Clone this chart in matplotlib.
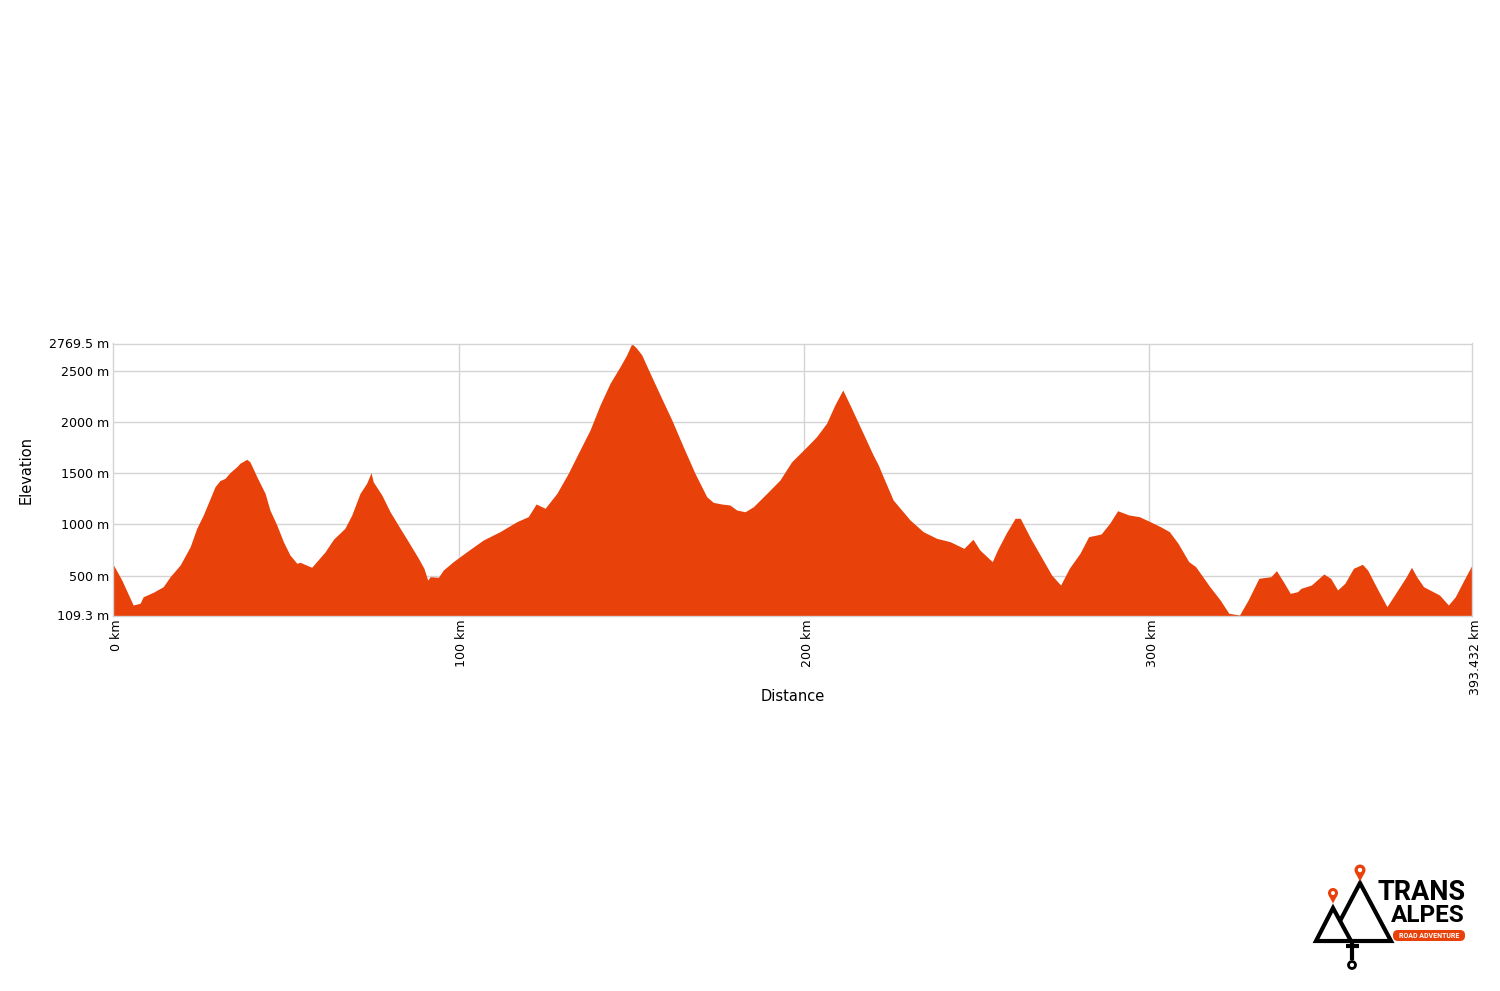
'''
plot.py

Elevation profile of the Trans Alpes road route (distance vs elevation),
drawn as a filled area with the logo in the lower right corner.
'''

import matplotlib
matplotlib.use('Agg')
import matplotlib.pyplot as plt
import matplotlib.transforms as mtransforms
from matplotlib.patches import Polygon, Circle, FancyBboxPatch

# ============================================
# Data
# ============================================
distance_km = [
    0.0, 2.4, 5.7, 7.7, 8.6, 11.5, 14.4, 16.4, 19.3, 22.2, 24.1, 26.0,
    29.4, 30.8, 32.3, 33.7, 35.7, 36.6, 38.6, 39.5, 41.5, 43.9, 45.3, 47.3,
    49.2, 51.1, 53.1, 54.0, 57.4, 58.4, 61.3, 63.7, 67.0, 69.0, 71.4, 73.3,
    74.6, 75.2, 77.7, 80.1, 83.0, 85.4, 88.3, 89.9, 91.0, 91.7, 94.1, 95.5,
    98.4, 102.3, 107.1, 111.9, 116.8, 120.1, 122.4, 125.0, 128.4, 131.7,
    134.6, 138.0, 140.9, 143.8, 146.7, 148.6, 150.1, 151.5, 153.0, 155.4,
    158.3, 161.7, 165.0, 168.4, 171.8, 173.7, 176.1, 178.5, 180.5, 182.9,
    185.3, 189.2, 193.0, 196.4, 200.3, 203.6, 206.5, 208.9, 211.2, 213.3,
    217.1, 220.0, 221.5, 222.9, 225.8, 230.7, 234.5, 238.4, 242.3, 246.3,
    248.9, 250.9, 254.5, 256.0, 258.5, 261.1, 262.6, 265.6, 269.2, 271.7,
    274.3, 276.8, 279.9, 282.4, 286.0, 288.5, 290.8, 294.1, 297.1, 300.2,
    303.2, 305.8, 308.3, 311.4, 313.4, 317.5, 320.5, 323.0, 326.1, 328.6,
    331.7, 335.2, 336.8, 338.8, 340.8, 342.9, 343.9, 346.9, 350.5, 352.5,
    354.5, 356.6, 359.1, 361.7, 363.2, 366.2, 368.8, 371.3, 374.4, 375.9,
    377.4, 379.4, 384.0, 386.6, 388.6, 391.1, 393.432,
]
elevation_m = [
    603, 456, 212, 229, 293, 336, 391, 489, 603, 782, 962, 1092,
    1369, 1428, 1451, 1506, 1565, 1598, 1637, 1613, 1467, 1304, 1141, 994,
    831, 701, 620, 630, 581, 620, 733, 855, 962, 1092, 1304, 1402,
    1506, 1418, 1288, 1124, 962, 831, 669, 571, 456, 489, 483, 554,
    636, 733, 848, 929, 1027, 1076, 1200, 1158, 1304, 1500,
    1696, 1923, 2168, 2380, 2543, 2657, 2769, 2723, 2657, 2478,
    2266, 2021, 1760, 1500, 1271, 1216, 1200, 1190, 1141, 1124,
    1173, 1304, 1434, 1613, 1744, 1858, 1989, 2168, 2315, 2168,
    1891, 1679, 1581, 1467, 1239, 1043, 929, 864, 831, 766,
    855, 750, 636, 750, 913, 1060, 1060, 864, 652, 505,
    407, 571, 718, 880, 906, 1011, 1134, 1092, 1076, 1027,
    978, 929, 815, 636, 587, 391, 261, 131, 114, 261,
    473, 489, 548, 440, 326, 342, 375, 407, 515, 473,
    359, 424, 571, 610, 554, 359, 196, 326, 489, 581,
    489, 391, 310, 212, 293, 456, 603,
]

y_min, y_max = 109.3, 2769.5
x_max = 393.432
y_ticks = [109.3, 500, 1000, 1500, 2000, 2500, 2769.5]
y_tick_labels = ['109.3 m', '500 m', '1000 m', '1500 m', '2000 m', '2500 m', '2769.5 m']
x_ticks = [0, 100, 200, 300, 393.432]
x_tick_labels = ['0 km', '100 km', '200 km', '300 km', '393.432 km']

FILL = '#e8410a'
GRID = '#d4d4d4'
W, H = 1500, 991


# ============================================
# Function: draw the elevation profile
# ============================================
def draw_profile(fig):
    ax = fig.add_axes([113.5 / W, 1 - 615.5 / H, (1472 - 113.5) / W, (615.5 - 343.5) / H])
    ax.fill_between(distance_km, y_min, elevation_m, color=FILL, lw=0, zorder=2)
    ax.set_xlim(0, x_max)
    ax.set_ylim(y_min, y_max)

    ax.set_yticks(y_ticks)
    ax.set_yticklabels(y_tick_labels)
    ax.set_xticks(x_ticks)
    ax.set_xticklabels(x_tick_labels, rotation=90, va='top', ha='center')
    ax.tick_params(length=0, labelsize=9.1, colors='black', pad=3)

    # distance labels sit a few pixels right of their tick in the reference
    nudge = mtransforms.ScaledTranslation(3 / 100, 0, fig.dpi_scale_trans)
    for lab in ax.get_xticklabels():
        lab.set_transform(lab.get_transform() + nudge)

    # gridlines only where the reference has them
    for y in y_ticks:
        ax.axhline(y, color=GRID, lw=1, zorder=1)
    for x in x_ticks[1:-1]:
        ax.axvline(x, color=GRID, lw=1, zorder=1)
    for s in ax.spines.values():
        s.set_color(GRID)
        s.set_linewidth(1)

    # axis titles sit at fixed spots, not pushed by the long tick labels
    ax.set_ylabel('Elevation', fontsize=10.5)
    ax.yaxis.set_label_coords(-0.0585, 0.535)
    ax.set_xlabel('Distance', fontsize=10.5)
    ax.xaxis.set_label_coords(0.5, -0.27)
    return ax


# ============================================
# Function: draw the Trans Alpes logo
# ============================================
def draw_logo(fig):
    lg = fig.add_axes([0, 0, 1, 1], facecolor='none')
    lg.set_xlim(0, W)
    lg.set_ylim(H, 0)
    lg.axis('off')

    # mountains
    lg.add_patch(Polygon([(1316, 941), (1333, 908), (1351, 941)], closed=True,
                         fill=False, ec='black', lw=3, joinstyle='miter'))
    lg.add_patch(Polygon([(1340, 921), (1360, 883), (1391, 941), (1351, 941)], closed=False,
                         fill=False, ec='black', lw=3, joinstyle='miter'))

    # map pins
    for cx, cy, r in [(1333, 893, 5), (1360, 870, 5.5)]:
        lg.add_patch(Polygon([(cx - r * 0.85, cy + r * 0.5), (cx, cy + r * 2.1),
                              (cx + r * 0.85, cy + r * 0.5)], color=FILL, lw=0))
        lg.add_patch(Circle((cx, cy), r, color=FILL, lw=0))
        lg.add_patch(Circle((cx, cy), r * 0.4, color='white', lw=0))

    # handle below the mountains
    lg.plot([1346, 1359], [946, 946], color='black', lw=3, solid_capstyle='butt')
    lg.plot([1352, 1352], [941, 960], color='black', lw=3, solid_capstyle='butt')
    lg.add_patch(Circle((1352, 965), 3.5, fill=False, ec='black', lw=2))

    # text
    lg.text(1378, 892, 'TRANS', fontsize=19.5, fontweight='bold', family='Roboto',
            ha='left', va='center', color='black')
    lg.text(1465, 916, 'ALPES', fontsize=17.5, fontweight='bold', family='Roboto',
            ha='right', va='center', color='black')
    lg.add_patch(FancyBboxPatch((1393, 930), 72, 11, boxstyle='round,pad=0,rounding_size=5',
                                color=FILL, lw=0))
    lg.text(1429, 936, 'ROAD ADVENTURE', fontsize=5, fontweight='bold', family='Roboto',
            ha='center', va='center', color='white')


# ============================================
# Main Runner
# ============================================
def main():
    fig = plt.figure(figsize=(W / 100, H / 100), dpi=100)
    fig.patch.set_facecolor('white')
    draw_profile(fig)
    draw_logo(fig)
    fig.savefig('out.png', dpi=100, facecolor='white')
    plt.close(fig)


if __name__ == '__main__':
    main()
